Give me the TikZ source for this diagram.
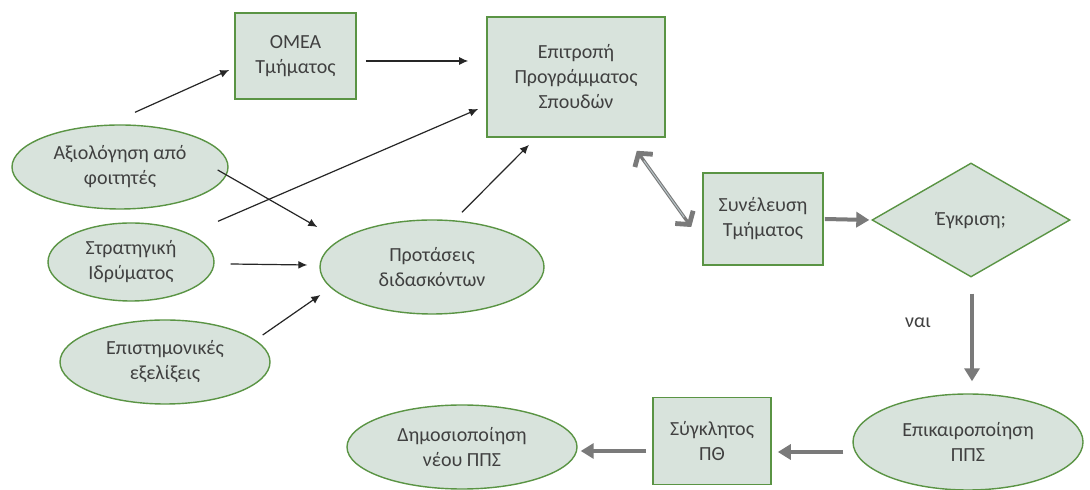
\documentclass[tikz,border=0pt]{standalone}
\usepackage{fontspec}
\setmainfont{Carlito}
\usetikzlibrary{shapes.geometric,arrows.meta}
\definecolor{nfill}{HTML}{D8E3DC}
\definecolor{nline}{HTML}{5A9444}
\definecolor{ntext}{HTML}{404040}
\definecolor{garr}{HTML}{7A7A7A}
\definecolor{glight}{HTML}{B8C4C8}
\begin{document}
\begin{tikzpicture}[x=0.5pt,y=-0.5pt,
  every node/.style={font=\fontsize{10}{12.5}\selectfont, text=ntext, align=center},
  boxn/.style={draw=nline, fill=nfill, line width=0.8pt, rectangle, inner sep=0pt},
  elln/.style={draw=nline, fill=nfill, line width=0.7pt, ellipse, inner sep=0pt},
  diam/.style={draw=nline, fill=nfill, line width=0.7pt, diamond, inner sep=0pt, aspect=1.74},
  blk/.style={draw=black!85, line width=0.6pt, -{Latex[length=4.5pt,width=4pt]}},
  gry/.style={draw=garr, line width=2pt, -{Triangle[length=6.5pt,width=7.5pt]}},
  dbl/.style={draw=garr, line width=1.6pt,
    {Straight Barb[length=4.5pt,width=11pt,line width=2.4pt]}-{Straight Barb[length=4.5pt,width=11pt,line width=2.4pt]}}
]
\useasboundingbox (0,0) rectangle (1090,490);
\fill[white] (0,0) rectangle (1090,490);

% nodes
\node[boxn, minimum width=60.5pt, minimum height=43pt] (omea) at (295.5,56) {ΟΜΕΑ\\Τμήματος};
\node[boxn, minimum width=89pt, minimum height=60pt] (eps) at (576,77) {Επιτροπή\\Προγράμματος\\Σπουδών};
\node[elln, minimum width=108pt, minimum height=42pt] (axi) at (120,167) {Αξιολόγηση από\\φοιτητές};
\node[elln, minimum width=83pt, minimum height=39pt] (str) at (131,262) {Στρατηγική\\Ιδρύματος};
\node[elln, minimum width=105pt, minimum height=42pt] (epi) at (165,362) {Επιστημονικές\\εξελίξεις};
\node[elln, minimum width=112pt, minimum height=47pt] (prot) at (432,267) {Προτάσεις\\διδασκόντων};
\node[boxn, minimum width=60pt, minimum height=46pt] (syn) at (763,219) {Συνέλευση\\Τμήματος};
\node[diam, minimum width=99pt, minimum height=57pt] (egk) at (971,220) {Έγκριση;};
\node (nai) at (918,323) {ναι};
\node[elln, minimum width=115pt, minimum height=48pt] (epik) at (968,442) {Επικαιροποίηση\\ΠΠΣ};
\node[boxn, minimum width=59pt, minimum height=43.5pt] (syg) at (712,441) {Σύγκλητος\\ΠΘ};
\node[elln, minimum width=115pt, minimum height=42pt] (dim) at (462,447) {Δημοσιοποίηση\\νέου ΠΠΣ};

% thin black connectors
\draw[blk] ([shift={(15,-12)}]axi.north) -- ([shift={(-5,14)}]omea.west);
\draw[blk] ([shift={(9,5)}]omea.east) -- ([shift={(-18,-16)}]eps.west);
\draw[blk] ([shift={(87,-1)}]str.north) -- ([shift={(-8,32)}]eps.west);
\draw[blk] ([shift={(-11,3)}]axi.east) -- ([shift={(-2,-40)}]prot.west);
\draw[blk] ([shift={(16,2)}]str.east) -- ([shift={(-12,-2)}]prot.west);
\draw[blk] ([shift={(-8,-27)}]epi.east) -- ([shift={(1,28)}]prot.west);
\draw[blk] ([shift={(30,-7)}]prot.north) -- ([shift={(-47,7)}]eps.south);

% thick gray connectors
\draw[dbl] ([shift={(-29,13)}]eps.south east) -- ([shift={(-11,8)}]syn.west);
\draw[glight, line width=0.5pt, shorten <=6pt, shorten >=6pt] ([shift={(-29,13)}]eps.south east) -- ([shift={(-11,8)}]syn.west);
\draw[gry] ([shift={(1,0)}]syn.east) -- ([shift={(-2,0)}]egk.west);
\draw[gry] ([shift={(1,16)}]egk.south) -- ([shift={(4,-12)}]epik.north);
\draw[gry] ([shift={(-9,10)}]epik.west) -- ([shift={(6,11)}]syg.east);
\draw[gry] ([shift={(-6,10)}]syg.west) -- ([shift={(3,4)}]dim.east);
\end{tikzpicture}
\end{document}
